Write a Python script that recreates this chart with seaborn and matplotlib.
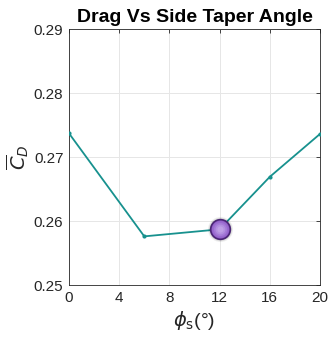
import matplotlib
matplotlib.use("Agg")
import matplotlib.pyplot as plt
import seaborn as sns
import pandas as pd

angles = [0, 6, 12, 16, 20]
drag = [0.2737, 0.2576, 0.2587, 0.2669, 0.2736]
highlight_angle = [12]
highlight_drag = [0.2587]
xticks = [0, 4, 8, 12, 16, 20]
yticks = [0.25, 0.26, 0.27, 0.28, 0.29]

sns.set_theme(style="whitegrid")
plt.rcParams['font.family'] = ['Liberation Sans', 'DejaVu Sans']
plt.rcParams['mathtext.fontset'] = 'dejavusans'

df = pd.DataFrame({"angle": angles, "drag": drag})
hl = pd.DataFrame({"angle": highlight_angle, "drag": highlight_drag})

fig = plt.figure(figsize=(3.29, 3.37), dpi=100)
ax = fig.add_axes([0.2097, 0.1543, 0.7629, 0.7596])

sns.lineplot(data=df, x="angle", y="drag", ax=ax, color="#17918e", lw=1.3,
             marker="o", markersize=3, markeredgewidth=0, zorder=3)
# soft shadow
for s_, a_ in [(330, 0.05), (290, 0.07), (250, 0.08)]:
    sns.scatterplot(data=hl, x="angle", y="drag", ax=ax, s=s_, color="#000000",
                    alpha=a_, linewidth=0, zorder=3)
sns.scatterplot(data=hl, x="angle", y="drag", ax=ax, s=200, color="#8e5cc6",
                edgecolor="#4a2575", linewidth=1.2, zorder=4)
for s_, c_ in [(140, "#9a6bd0"), (90, "#a67cd8"), (50, "#b390e0"), (20, "#bfa0e6")]:
    sns.scatterplot(data=hl, x="angle", y="drag", ax=ax, s=s_, color=c_,
                    linewidth=0, zorder=5)

ax.set_xlim(0, 20)
ax.set_ylim(0.25, 0.29)
ax.set_xticks(xticks)
ax.set_yticks(yticks)
ax.set_xticklabels([str(t) for t in xticks])
ax.set_yticklabels([f"{t:.2f}" for t in yticks])
ax.tick_params(axis="both", labelsize=11, colors="#262626", direction="in",
               length=3, width=0.6, pad=4)
ax.tick_params(axis="both", which="both", top=True, right=True)
ax.grid(True, color="#e6e6e6", lw=0.7)
for s in ax.spines.values():
    s.set_color("#262626")
    s.set_linewidth(0.6)
ax.set_facecolor("white")

ax.set_title("Drag Vs Side Taper Angle", fontsize=14, fontweight="bold", pad=5,
             color="black")
ax.set_xlabel(r"$\phi_{\mathrm{s}}$(°)", fontsize=14, color="#262626", labelpad=3)
ax.set_ylabel(r"$\overline{C}_D$", fontsize=14, color="#262626", labelpad=2)

fig.savefig("out.png", dpi=100)
